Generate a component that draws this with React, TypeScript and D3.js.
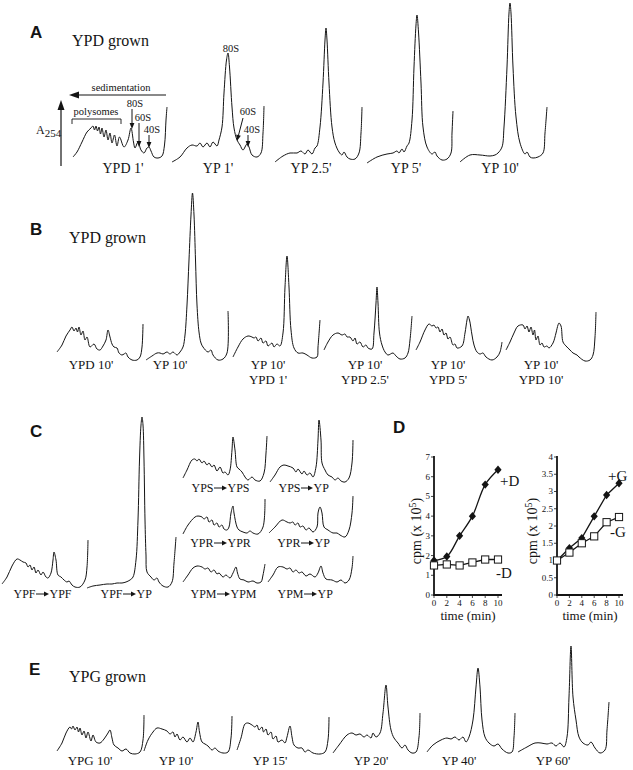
import React from "react";
import * as d3 from "d3";

type Pt = [number, number];

const SERIF = "'Liberation Serif', 'Times New Roman', Times, serif";
const SANS = "'Liberation Sans', Arial, Helvetica, sans-serif";
const INK = "#141414";

// ---------------- DATA: polysome profiles [gradient position, A254] ----------------
// Panel A
const A_TITLE = "YPD grown";
const A_LABELS = ["YPD 1'", "YP 1'", "YP 2.5'", "YP 5'", "YP 10'"];
const A_YPD1: Pt[] = [[0,3],[4,8],[9,18],[14,28],[18,32],[20,34],[21.5,30],[23,34],[24.5,29],[26,33],[27.5,26],[29,32],[31,23],[33,30],[35,20],[37,27],[39,17],[41.5,25],[44,14],[46.5,23],[51,13],[55,20],[58,32],[60.5,18],[62,12],[65,18],[68,10],[71,7],[74,12],[76,13],[78,9],[81,3],[85,2],[89,4],[91.5,15],[93,40],[94,53]];
const A_YP1: Pt[] = [[0,-2],[8,3],[15,12],[20,15],[25,14],[28,17],[31,13],[35,17],[38,13],[41,18],[45,14],[47,20],[50,33],[52,67],[54.5,100],[56,107],[57.5,93],[60,53],[62,32],[65,20],[68,15],[71,10],[75,16],[77,13],[80,5],[85,3],[89,7],[91,27],[92,54]];
const A_YP25: Pt[] = [[0,-2],[8,4],[15,7],[22,7],[26,9],[30,6],[33,10],[37,6],[40,12],[42,14],[45,33],[48,77],[50,120],[51,132],[52,120],[54,77],[57,33],[60,17],[64,8],[67,5],[69,8],[72,3],[75,1],[80,1],[84,7],[86,27],[87,53]];
const A_YP5: Pt[] = [[0,-3],[10,3],[20,6],[26,7],[30,9],[32,7],[35,11],[37,8],[40,14],[42,17],[45,40],[47,93],[49,135],[50,145],[51.5,128],[54,77],[56,33],[60,13],[65,6],[68,8],[70,4],[75,0],[80,1],[84,7],[85,27],[86,49]];
const A_YP10: Pt[] = [[0,-2],[10,5],[20,5],[30,4],[35,5],[38,7],[42,13],[44,33],[47,93],[49,147],[50,157],[51,147],[53,93],[56,43],[60,17],[65,6],[67,8],[70,3],[73,2],[78,3],[83,7],[85,27],[87,53]];
const A_PROFILES = [A_YPD1, A_YP1, A_YP25, A_YP5, A_YP10];

// Panel B
const B_TITLE = "YPD grown";
const B_LABELS = [["YPD 10'"], ["YP 10'"], ["YP 10'", "YPD 1'"], ["YP 10'", "YPD 2.5'"], ["YP 10'", "YPD 5'"], ["YP 10'", "YPD 10'"]];
const B_YPD10: Pt[] = [[0,8],[5,15],[9,24],[13,30],[15,33],[17,29],[19,32],[20.5,28],[22,33],[24,25],[26,29],[28,20],[30,23],[33,13],[37,16],[40,11],[43,10],[46,14],[49,20],[51,30],[53,23],[55,16],[57,13],[60,12],[62,7],[65,5],[67,6],[69,7],[71,3],[75,0],[80,0],[83,3],[85,13],[86,36]];
const B_YP10: Pt[] = [[0,0],[6,4],[11,7],[14,7],[17,6],[21,8],[24,6],[27,8],[31,5],[34,8],[37,13],[39,25],[41,55],[43,100],[45,145],[46.5,167],[48,145],[49.5,100],[51,55],[53,28],[55,17],[57,13],[62,8],[65,10],[67,5],[72,0],[77,1],[81,7],[82,49]];
const B_YP10_YPD1: Pt[] = [[0,3],[5,13],[10,21],[15,24],[19,23],[21,22],[23,23],[25,19],[28,22],[30,17],[33,19],[35,14],[39,17],[41,13],[44,16],[47,14],[50,27],[52,73],[54,104],[56,73],[58,30],[61,12],[65,7],[70,7],[74,5],[79,2],[84,3],[85,13],[87,40]];
const B_YP10_YPD25: Pt[] = [[0,10],[4,18],[9,25],[14,27],[18,25],[21,26],[23,23],[26,23],[29,19],[31,22],[33,16],[36,18],[39,13],[42,15],[44,12],[48,11],[50,27],[52,57],[53,73],[54,57],[55.5,27],[58,15],[61,8],[64,5],[69,7],[72,4],[76,1],[81,2],[84,7],[86,20],[88,44]];
const B_YP10_YPD5: Pt[] = [[0,10],[4,18],[9,30],[13,36],[16,34],[18,35],[20,32],[22,33],[24,28],[26,31],[28,25],[30,27],[32,21],[34,23],[37,15],[39,16],[41,12],[46,14],[49,27],[51,40],[52,44],[53.5,40],[56,25],[58,15],[61,8],[64,6],[67,7],[70,3],[76,0],[81,3],[84,8],[86,18]];
const B_YP10_YPD10: Pt[] = [[0,10],[4,18],[8,27],[12,34],[17,35],[19,31],[21,34],[23,28],[25,33],[27,25],[28.5,30],[30,20],[32,24],[34,15],[36,17],[38,13],[41,14],[43,12],[47,17],[50,27],[52,35],[53,37],[55,34],[57,18],[60,14],[64,10],[67,7],[71,5],[73,3],[79,-1],[84,0],[87,5],[89,23],[90,48]];
const B_PROFILES = [B_YPD10, B_YP10, B_YP10_YPD1, B_YP10_YPD25, B_YP10_YPD5, B_YP10_YPD10];

// Panel C
const C_LABELS: [string, string][] = [["YPF", "YPF"], ["YPF", "YP"], ["YPS", "YPS"], ["YPS", "YP"], ["YPR", "YPR"], ["YPR", "YP"], ["YPM", "YPM"], ["YPM", "YP"]];
const C_YPF_YPF: Pt[] = [[0,3],[5,10],[10,21],[15,28],[18,27],[21,25],[24,24],[26,20],[28,22],[30,17],[32,20],[34,14],[36,17],[39,12],[41,15],[44,10],[46,9],[49,14],[51,27],[52,35],[54,27],[56,12],[59,10],[62,7],[65,5],[67,6],[70,2],[73,0],[78,0],[83,7],[85,20],[86,47]];
const C_YPF_YP: Pt[] = [[0,0],[6,2],[13,3],[20,4],[25,4],[30,5],[35,5],[39,6],[43,8],[46,11],[49,28],[51,68],[52.5,128],[54,163],[55,171],[56,163],[57,128],[58,68],[59,33],[60,16],[64,11],[67,8],[70,10],[72,6],[76,2],[81,1],[85,6],[87,25],[89,51]];
const C_YPS_YPS: Pt[] = [[0,3],[4,11],[9,21],[12,22],[14,20],[16,22],[19,18],[21,20],[24,16],[26,18],[29,14],[31,16],[34,10],[37,14],[40,8],[42,9],[45,6],[47,11],[49,31],[50,44],[52,31],[54,14],[56,12],[59,9],[62,4],[65,1],[69,4],[72,1],[77,0],[81,8],[83,28],[84,45]];
const C_YPS_YP: Pt[] = [[0,0],[5,7],[10,15],[14,17],[18,16],[23,14],[26,10],[28,13],[32,8],[34,11],[37,7],[40,9],[43,5],[46,15],[48,42],[49,62],[51,42],[52,19],[55,12],[58,7],[62,5],[65,2],[68,4],[71,1],[75,0],[79,4],[82,19],[83,42]];
const C_YPR_YPR: Pt[] = [[0,1],[5,10],[12,18],[15,19],[19,18],[21,16],[24,18],[26,13],[29,15],[31,10],[34,12],[36,8],[39,10],[41,6],[44,5],[46,8],[48,22],[50,29],[51,22],[54,8],[56,5],[60,3],[64,2],[67,4],[70,2],[75,1],[80,8],[82,36]];
const C_YPR_YP: Pt[] = [[0,4],[6,10],[13,17],[18,15],[21,14],[24,15],[26,12],[29,14],[31,10],[34,11],[37,7],[40,9],[44,5],[48,10],[49,24],[51,30],[53,24],[55,10],[59,7],[64,4],[68,4],[71,2],[76,0],[80,7],[83,24],[84,41]];
const C_YPM_YPM: Pt[] = [[0,2],[5,9],[10,16],[14,18],[19,17],[22,15],[25,16],[28,12],[31,14],[34,10],[36,11],[40,7],[43,9],[47,6],[50,11],[53,17],[54.5,11],[57,5],[61,4],[65,2],[70,3],[74,1],[78,2],[80,9],[82,20]];
const C_YPM_YP: Pt[] = [[0,2],[5,9],[10,17],[15,17],[19,15],[22,16],[25,12],[28,14],[31,11],[34,12],[38,8],[42,10],[47,7],[50,11],[53,18],[55,11],[58,5],[64,4],[69,2],[73,4],[77,1],[81,4],[84,16],[85,28]];
const C_PROFILES = [C_YPF_YPF, C_YPF_YP, C_YPS_YPS, C_YPS_YP, C_YPR_YPR, C_YPR_YP, C_YPM_YPM, C_YPM_YP];

// Panel D: cpm (x 10^5) vs time (min)
const D_TIME = [0, 2, 4, 6, 8, 10];
const D_PLUS = [1.75, 1.95, 3.0, 4.0, 5.6, 6.35];
const D_MINUS = [1.5, 1.55, 1.5, 1.65, 1.8, 1.8];
const G_PLUS = [1.0, 1.36, 1.65, 2.28, 2.9, 3.24];
const G_MINUS = [1.0, 1.23, 1.5, 1.7, 2.11, 2.26];
const D_YTICKS = [0, 1, 2, 3, 4, 5, 6, 7];
const G_YTICKS = [0, 0.5, 1, 1.5, 2, 2.5, 3, 3.5, 4];
const D_XTICKS = [0, 2, 4, 6, 8, 10];

// Panel E
const E_TITLE = "YPG grown";
const E_LABELS = ["YPG 10'", "YP 10'", "YP 15'", "YP 20'", "YP 40'", "YP 60'"];
const E_YPG10: Pt[] = [[0,3],[5,11],[9,21],[13,27],[14.5,25],[16,28],[18,24],[20,27],[21.5,22],[23,26],[25,19],[27,23],[29,16],[31,22],[34,13],[36,19],[39,12],[43,11],[47,15],[51,21],[53,24],[55,16],[57,9],[61,6],[65,3],[69,5],[73,1],[78,0],[83,2],[86,14],[87,39]];
const E_YP10: Pt[] = [[0,3],[4,14],[9,22],[13,26],[18,25],[23,23],[26,20],[29,22],[31,17],[33,20],[36,14],[39,17],[43,12],[46,16],[49,12],[52,22],[54,32],[55.5,22],[58,12],[61,10],[64,8],[68,4],[71,6],[74,3],[79,1],[84,2],[87,16],[88,38]];
const E_YP15: Pt[] = [[0,4],[4,16],[8,30],[11,31],[15,29],[18,27],[20,29],[22,24],[25,27],[26.5,22],[29,25],[31,19],[34,22],[36,15],[39,18],[41,12],[45,14],[48,11],[50,17],[53,28],[55,17],[57,9],[61,6],[65,6],[68,2],[71,4],[76,1],[83,0],[88,2],[91,14],[92,37]];
const E_YP20: Pt[] = [[0,1],[6,9],[14,19],[19,21],[23,19],[27,20],[31,17],[34,19],[38,16],[40,21],[43,17],[47,21],[50,41],[53,69],[55,47],[58,24],[61,16],[65,11],[69,6],[72,9],[75,4],[79,1],[83,2],[86,17],[87,41]];
const E_YP40: Pt[] = [[0,2],[6,9],[14,14],[20,16],[24,15],[28,17],[32,14],[36,17],[39,12],[42,17],[46,34],[49,67],[51,86],[53,67],[55,34],[58,17],[62,11],[67,8],[71,10],[75,5],[81,1],[85,2],[87,17],[88,41]];
const E_YP60: Pt[] = [[0,2],[9,7],[17,11],[23,11],[29,10],[34,11],[38,8],[42,11],[46,7],[49,17],[51,57],[53,108],[55,57],[58,34],[61,17],[65,11],[70,9],[73,12],[77,6],[82,1],[87,4],[89,24],[91,52]];
const E_PROFILES = [E_YPG10, E_YP10, E_YP15, E_YP20, E_YP40, E_YP60];

// ---------------- LAYOUT ----------------
const A_X0 = [73, 172, 275, 367, 460];
const A_LX = [123, 218, 311, 406, 500];
const B_X0 = [57, 146, 233, 324, 416, 506];
const B_LX = [91, 170, 268, 365, 448, 541];
const C_POS = [
  { x0: 2, base: 587, ax0: 36, ax1: 49, ly: 598 },
  { x0: 87, base: 588, ax0: 123, ax1: 136, ly: 598 },
  { x0: 183, base: 481, ax0: 214, ax1: 227, ly: 492 },
  { x0: 270, base: 482, ax0: 301, ax1: 313, ly: 492 },
  { x0: 183, base: 535, ax0: 214, ax1: 227, ly: 547 },
  { x0: 269, base: 537, ax0: 301, ax1: 314, ly: 547 },
  { x0: 183, base: 584, ax0: 217, ax1: 230, ly: 598 },
  { x0: 268, base: 584, ax0: 304, ax1: 317, ly: 598 },
];
const E_X0 = [57, 144, 237, 333, 427, 518];
const E_LX = [90, 176, 270, 371, 459, 553];

function Trace({ pts, x0, base }: { pts: Pt[]; x0: number; base: number }) {
  const xs = d3.scaleLinear().domain([0, 100]).range([x0, x0 + 100]);
  const ys = d3.scaleLinear().domain([0, 100]).range([base, base - 100]);
  const gen = d3
    .line<Pt>()
    .x((d) => xs(d[0]))
    .y((d) => ys(d[1]))
    .curve(d3.curveCatmullRom.alpha(0.5));
  return <path d={gen(pts) ?? ""} fill="none" stroke={INK} strokeWidth={1} strokeLinejoin="round" />;
}

function Arrow({ x1, y1, x2, y2, head = 6, half = 2.4, w = 1 }: { x1: number; y1: number; x2: number; y2: number; head?: number; half?: number; w?: number }) {
  const dx = x2 - x1, dy = y2 - y1;
  const L = Math.hypot(dx, dy);
  const ux = dx / L, uy = dy / L;
  const bx = x2 - ux * head, by = y2 - uy * head;
  const px = -uy, py = ux;
  return (
    <g>
      <line x1={x1} y1={y1} x2={bx + ux} y2={by + uy} stroke={INK} strokeWidth={w} />
      <polygon points={`${x2},${y2} ${bx + px * half},${by + py * half} ${bx - px * half},${by - py * half}`} fill={INK} />
    </g>
  );
}

function PanelLetter({ x, y, t }: { x: number; y: number; t: string }) {
  return (
    <text x={x} y={y} fontFamily={SANS} fontWeight="bold" fontSize={17} fill={INK}>
      {t}
    </text>
  );
}

function Plot({
  x0, x1, yTop, yBot, yMax, yTicks, plus, minus, plusLbl, minusLbl, plusPos, minusPos, titleX, smoothPlus,
}: {
  x0: number; x1: number; yTop: number; yBot: number; yMax: number; yTicks: number[]; plus: number[]; minus: number[];
  plusLbl: string; minusLbl: string; plusPos: [number, number]; minusPos: [number, number]; titleX: number; smoothPlus: boolean;
}) {
  const xs = d3.scaleLinear().domain([0, 10]).range([x0, x1]);
  const ys = d3.scaleLinear().domain([0, yMax]).range([yBot, yTop]);
  const pData = D_TIME.map((t, i) => [t, plus[i]] as Pt);
  const mData = D_TIME.map((t, i) => [t, minus[i]] as Pt);
  const lp = d3.line<Pt>().x((d) => xs(d[0])).y((d) => ys(d[1])).curve(smoothPlus ? d3.curveCatmullRom.alpha(0.5) : d3.curveLinear);
  const lm = d3.line<Pt>().x((d) => xs(d[0])).y((d) => ys(d[1]));
  return (
    <g fontFamily={SERIF} fill={INK}>
      {/* axes */}
      <line x1={x0} y1={yBot} x2={x1 + 4} y2={yBot} stroke={INK} strokeWidth={1.8} />
      <line x1={x0} y1={yBot + 0.9} x2={x0} y2={yTop - 1} stroke={INK} strokeWidth={1.8} />
      {yTicks.map((t) => (
        <g key={"y" + t}>
          <line x1={x0 - 3} x2={x0} y1={ys(t)} y2={ys(t)} stroke={INK} strokeWidth={0.8} />
          <text x={x0 - 4} y={ys(t)} dy="0.33em" textAnchor="end" fontSize={9}>
            {t}
          </text>
        </g>
      ))}
      {D_XTICKS.map((t) => (
        <g key={"x" + t}>
          <line x1={xs(t)} x2={xs(t)} y1={yBot} y2={yBot + 3} stroke={INK} strokeWidth={0.8} />
          <text x={xs(t)} y={yBot + 11} textAnchor="middle" fontSize={9}>
            {t}
          </text>
        </g>
      ))}
      <text x={(x0 + x1) / 2 + 2} y={yBot + 25} textAnchor="middle" fontSize={13}>
        time (min)
      </text>
      <text transform={`translate(${titleX},${(yTop + yBot) / 2 + 5}) rotate(-90)`} textAnchor="middle" fontSize={14}>
        cpm (x 10<tspan dy={-5} fontSize={10}>5</tspan>
        <tspan dy={5}>)</tspan>
      </text>
      {/* series */}
      <path d={lp(pData) ?? ""} fill="none" stroke={INK} strokeWidth={1.3} />
      <path d={lm(mData) ?? ""} fill="none" stroke={INK} strokeWidth={1.3} />
      {pData.map((d, i) => {
        const cx = xs(d[0]), cy = ys(d[1]);
        return <polygon key={"p" + i} points={`${cx},${cy - 4.2} ${cx + 3.6},${cy} ${cx},${cy + 4.2} ${cx - 3.6},${cy}`} fill={INK} />;
      })}
      {mData.map((d, i) => {
        const cx = xs(d[0]), cy = ys(d[1]);
        return <rect key={"m" + i} x={cx - 3.6} y={cy - 3.6} width={7.2} height={7.2} fill="#fff" stroke={INK} strokeWidth={1} />;
      })}
      <text x={plusPos[0]} y={plusPos[1]} fontSize={15}>
        {plusLbl}
      </text>
      <text x={minusPos[0]} y={minusPos[1]} fontSize={15}>
        {minusLbl}
      </text>
    </g>
  );
}

export default function App() {
  return (
    <svg
      width={633}
      height={770}
      viewBox="0 0 633 770"
      style={{ position: "absolute", left: 0, top: 0, background: "#fff" }}
      fontFamily={SERIF}
    >
      <rect x={0} y={0} width={633} height={770} fill="#fff" />

      {/* ---------- Panel A ---------- */}
      <PanelLetter x={30} y={38} t="A" />
      <text x={72} y={46} fontSize={16} fill={INK}>{A_TITLE}</text>
      {A_PROFILES.map((p, i) => (
        <Trace key={"a" + i} pts={p} x0={A_X0[i]} base={160} />
      ))}
      {A_LABELS.map((l, i) => (
        <text key={"al" + i} x={A_LX[i]} y={173} fontSize={14} textAnchor="middle" fill={INK}>{l}</text>
      ))}
      {/* annotations */}
      <Arrow x1={166} y1={95} x2={69} y2={95} head={10} half={3.5} w={1.2} />
      <text x={121} y={91} fontSize={10.5} textAnchor="middle" fill={INK}>sedimentation</text>
      <Arrow x1={61} y1={166} x2={61} y2={100} head={10} half={3.5} w={1.2} />
      <text x={36} y={134} fontSize={12} fill={INK}>
        A<tspan dy={3} fontSize={11}>254</tspan>
      </text>
      <path d="M72,124 V119 H121 V124" fill="none" stroke={INK} strokeWidth={0.9} />
      <text x={96} y={115} fontSize={10.5} textAnchor="middle" fill={INK}>polysomes</text>
      <text x={135} y={107} fontSize={10.5} textAnchor="middle" fill={INK}>80S</text>
      <Arrow x1={132} y1={109} x2={132} y2={129} />
      <text x={143} y={121} fontSize={10.5} textAnchor="middle" fill={INK}>60S</text>
      <Arrow x1={139} y1={123} x2={139} y2={147} />
      <text x={152} y={133} fontSize={10.5} textAnchor="middle" fill={INK}>40S</text>
      <Arrow x1={149} y1={135} x2={149} y2={148} />
      <text x={231} y={52} fontSize={10.5} textAnchor="middle" fill={INK}>80S</text>
      <text x={248} y={115} fontSize={10.5} textAnchor="middle" fill={INK}>60S</text>
      <Arrow x1={243} y1={118} x2={237} y2={141} />
      <text x={252} y={133} fontSize={10.5} textAnchor="middle" fill={INK}>40S</text>
      <Arrow x1={248} y1={135} x2={248} y2={147} />

      {/* ---------- Panel B ---------- */}
      <PanelLetter x={30} y={235} t="B" />
      <text x={69} y={243} fontSize={16} fill={INK}>{B_TITLE}</text>
      {B_PROFILES.map((p, i) => (
        <Trace key={"b" + i} pts={p} x0={B_X0[i]} base={360} />
      ))}
      {B_LABELS.map((ls, i) =>
        ls.map((l, j) => (
          <text key={"bl" + i + "_" + j} x={B_LX[i]} y={369 + j * 15} fontSize={13} textAnchor="middle" fill={INK}>{l}</text>
        ))
      )}

      {/* ---------- Panel C ---------- */}
      <PanelLetter x={30} y={437} t="C" />
      {C_PROFILES.map((p, i) => (
        <Trace key={"c" + i} pts={p} x0={C_POS[i].x0} base={C_POS[i].base} />
      ))}
      {C_LABELS.map(([a, b], i) => {
        const pos = C_POS[i];
        return (
          <g key={"cl" + i}>
            <text x={pos.ax0 - 0.5} y={pos.ly} fontSize={12} textAnchor="end" fill={INK}>{a}</text>
            <Arrow x1={pos.ax0} y1={pos.ly - 4} x2={pos.ax1} y2={pos.ly - 4} head={5} half={2.6} w={1} />
            <text x={pos.ax1 + 0.5} y={pos.ly} fontSize={12} fill={INK}>{b}</text>
          </g>
        );
      })}

      {/* ---------- Panel D ---------- */}
      <PanelLetter x={393} y={433} t="D" />
      <Plot
        x0={434} x1={498} yTop={457} yBot={595} yMax={7} yTicks={D_YTICKS}
        plus={D_PLUS} minus={D_MINUS} plusLbl="+D" minusLbl="-D"
        plusPos={[500, 486]} minusPos={[496, 578]} titleX={421} smoothPlus={true}
      />
      <Plot
        x0={557} x1={619} yTop={457} yBot={595} yMax={4} yTicks={G_YTICKS}
        plus={G_PLUS} minus={G_MINUS} plusLbl="+G" minusLbl="-G"
        plusPos={[608, 481]} minusPos={[610, 537]} titleX={537} smoothPlus={false}
      />

      {/* ---------- Panel E ---------- */}
      <PanelLetter x={29} y={675} t="E" />
      <text x={69} y={682} fontSize={16} fill={INK}>{E_TITLE}</text>
      {E_PROFILES.map((p, i) => (
        <Trace key={"e" + i} pts={p} x0={E_X0[i]} base={754} />
      ))}
      {E_LABELS.map((l, i) => (
        <text key={"el" + i} x={E_LX[i]} y={765} fontSize={13} textAnchor="middle" fill={INK}>{l}</text>
      ))}
    </svg>
  );
}
